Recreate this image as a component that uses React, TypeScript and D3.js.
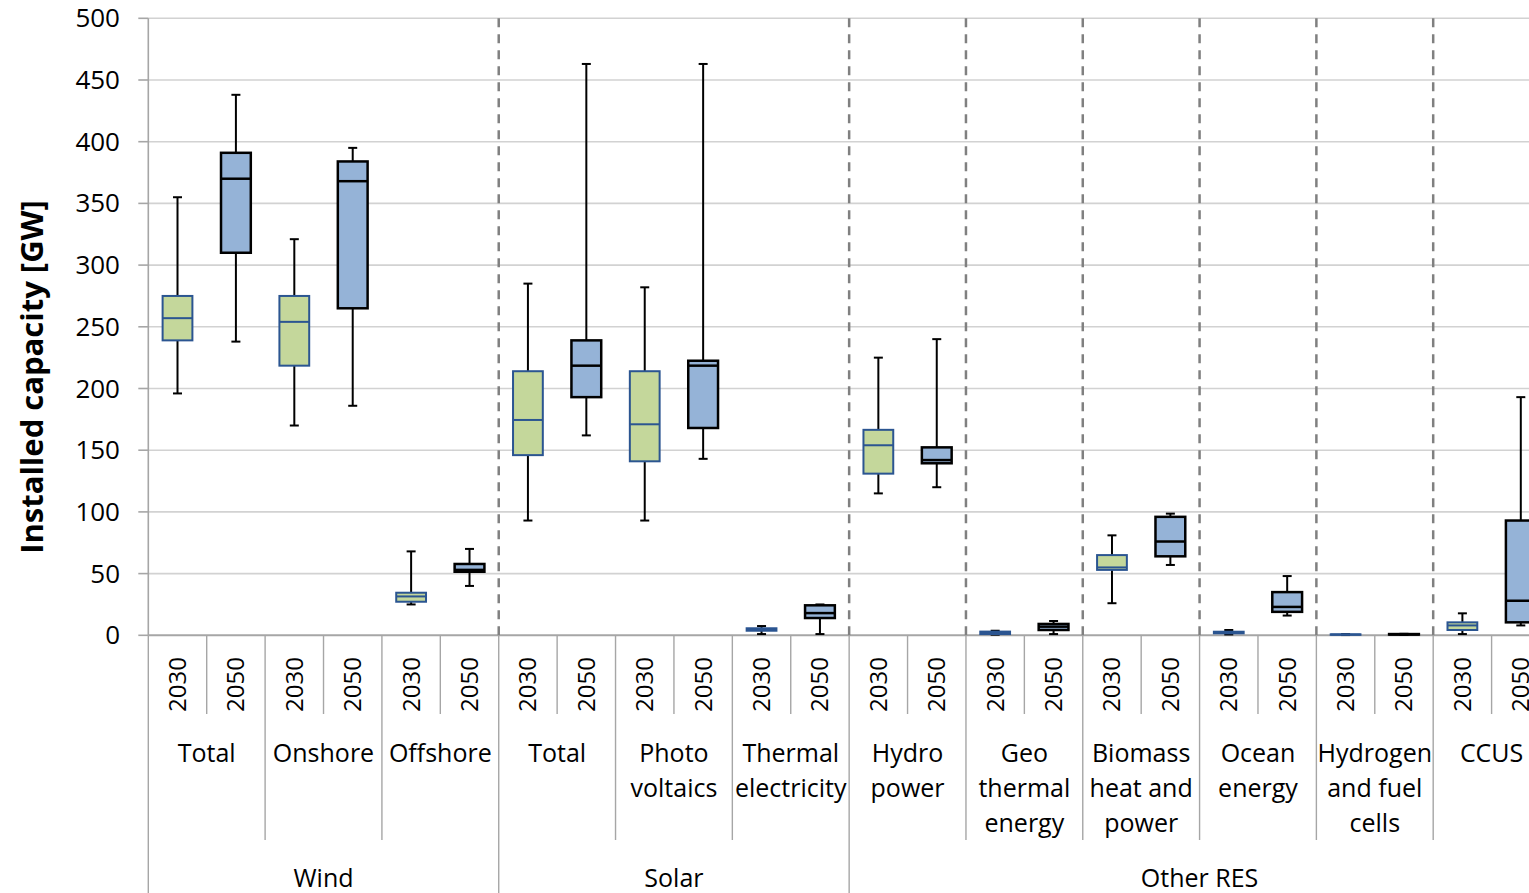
import React from "react";
import * as d3 from "d3";

// ---------- data ----------
const mainGroups = ["Wind", "Solar", "Other RES"];
const groupSpans = [3, 3, 6]; // number of sub-categories in each main group
const subCategories = [
  ["Total"],
  ["Onshore"],
  ["Offshore"],
  ["Total"],
  ["Photo", "voltaics"],
  ["Thermal", "electricity"],
  ["Hydro", "power"],
  ["Geo", "thermal", "energy"],
  ["Biomass", "heat and", "power"],
  ["Ocean", "energy"],
  ["Hydrogen", "and fuel", "cells"],
  ["CCUS"],
];
const years = ["2030", "2050"];
const yTicks = [0, 50, 100, 150, 200, 250, 300, 350, 400, 450, 500];

// [min, q1, median, q3, max] per sub-category
const stats2030 = [
  [196, 239, 257, 275, 355],
  [170, 218.5, 254, 275, 321],
  [25, 27.2, 31.5, 34.5, 68],
  [93, 146, 174.5, 214, 285],
  [93, 141, 171, 214, 282],
  [1, 3.7, 4.7, 5.7, 7.5],
  [115, 131, 154, 166.5, 225],
  [0.5, 1, 2, 3, 3.7],
  [26, 53, 55, 65, 81],
  [0.7, 1.6, 2.2, 2.9, 4.3],
  [0.2, 0.4, 0.6, 0.8, 1.0],
  [1, 4.3, 8, 10.5, 17.8],
];
const stats2050 = [
  [238, 310, 370, 391, 438],
  [186, 265, 368, 384, 395],
  [40, 51.5, 53, 57.8, 70],
  [162, 193, 218.5, 239, 463],
  [143, 168, 218.5, 222.5, 463],
  [1, 14, 18, 24.3, 25],
  [120, 139.4, 142, 152.3, 240],
  [1, 4.3, 7, 9.2, 11.6],
  [57, 64, 76, 96, 98.6],
  [16, 19, 23, 35, 48],
  [0.3, 0.6, 0.8, 1.0, 1.2],
  [8, 10.5, 28, 93, 193],
];

// ---------- styles ----------
const FONT = "'Open Sans', 'Noto Sans', sans-serif";
const fill2030 = "#C4D79B";
const stroke2030 = "#2B5591";
const fill2050 = "#95B3D7";
const stroke2050 = "#000000";

export default function App() {
  const W = 1529;
  const H = 893;
  const left = 148.3;
  const right = 1550;
  const nSlots = subCategories.length * years.length;
  const slotKeys = d3.range(nSlots).map(String);
  const x = d3.scaleBand<string>().domain(slotKeys).range([left, right]).padding(0);
  const step = x.step();
  const y = d3.scaleLinear().domain([0, 500]).range([635.3, 18.3]);
  const y0 = y(0);

  const boxW = step * 0.51;
  const capW = 9;

  const groupEdgeIdx: number[] = [0];
  groupSpans.reduce((acc, s) => {
    groupEdgeIdx.push(acc + s);
    return acc + s;
  }, 0);
  const groupEdgeSlots = groupEdgeIdx.map((i) => i * 2);

  const edgeX = (k: number) => left + k * step;

  const boxes: { k: number; s: number[]; year: number }[] = [];
  subCategories.forEach((_, i) => {
    boxes.push({ k: i * 2, s: stats2030[i], year: 0 });
    boxes.push({ k: i * 2 + 1, s: stats2050[i], year: 1 });
  });

  // dashed separators: main group boundaries and all sub-category boundaries in "Other RES"
  const dashedSlots: number[] = [];
  for (let i = 1; i < subCategories.length; i++) {
    const inWindOrSolar = i < groupEdgeIdx[2] && !groupEdgeIdx.includes(i);
    if (!inWindOrSolar) dashedSlots.push(i * 2);
  }

  return (
    <svg
      width={W}
      height={H}
      style={{ position: "absolute", left: 0, top: 0, background: "#fff" }}
      fontFamily={FONT}
    >
      <rect x={0} y={0} width={W} height={H} fill="#fff" />
      {/* gridlines */}
      {yTicks.map((t) => (
        <line
          key={"g" + t}
          x1={left}
          x2={W}
          y1={y(t)}
          y2={y(t)}
          stroke={t === 0 ? "#A6A6A6" : "#D2D2D2"}
          strokeWidth={t === 0 ? 2 : 1.6}
        />
      ))}
      {/* y axis */}
      <line x1={left} x2={left} y1={y(500)} y2={y0} stroke="#A6A6A6" strokeWidth={1.6} />
      {yTicks.map((t) => (
        <g key={"t" + t}>
          <line x1={left - 10} x2={left} y1={y(t)} y2={y(t)} stroke="#A6A6A6" strokeWidth={1.6} />
          <text x={120} y={y(t) + 9} textAnchor="end" fontSize={26} fill="#000">
            {t}
          </text>
        </g>
      ))}
      <text
        transform={`translate(43, ${(198 + 556) / 2}) rotate(-90)`}
        textAnchor="middle"
        fontSize={31}
        fontWeight="bold"
        fill="#000"
      >
        Installed capacity [GW]
      </text>

      {/* dashed separators */}
      {dashedSlots.map((k) => (
        <line
          key={"d" + k}
          x1={edgeX(k)}
          x2={edgeX(k)}
          y1={y(500)}
          y2={y0}
          stroke="#808080"
          strokeWidth={2.5}
          strokeDasharray="9,7"
        />
      ))}

      {/* boxes */}
      {boxes.map(({ k, s, year }) => {
        const cx = (x(String(k)) as number) + step / 2;
        const [mn, q1, md, q3, mx] = s;
        const fill = year === 0 ? fill2030 : fill2050;
        const stroke = year === 0 ? stroke2030 : stroke2050;
        const sw = year === 0 ? 2 : 2.5;
        return (
          <g key={"b" + k}>
            <line x1={cx} x2={cx} y1={y(mx)} y2={y(q3)} stroke="#000" strokeWidth={2} />
            <line x1={cx} x2={cx} y1={y(q1)} y2={y(mn)} stroke="#000" strokeWidth={2} />
            <line x1={cx - capW / 2} x2={cx + capW / 2} y1={y(mx)} y2={y(mx)} stroke="#000" strokeWidth={2} />
            <line x1={cx - capW / 2} x2={cx + capW / 2} y1={y(mn)} y2={y(mn)} stroke="#000" strokeWidth={2} />
            <rect
              x={cx - boxW / 2}
              y={y(q3)}
              width={boxW}
              height={Math.max(0.5, y(q1) - y(q3))}
              fill={fill}
              stroke={stroke}
              strokeWidth={sw}
            />
            <line
              x1={cx - boxW / 2}
              x2={cx + boxW / 2}
              y1={y(md)}
              y2={y(md)}
              stroke={stroke}
              strokeWidth={sw}
            />
          </g>
        );
      })}

      {/* category axis separators */}
      {d3.range(nSlots + 1).map((k) => {
        const isGroup = groupEdgeSlots.includes(k);
        const isSub = k % 2 === 0;
        const y2 = isGroup ? H : isSub ? 840 : 714;
        return (
          <line
            key={"s" + k}
            x1={edgeX(k)}
            x2={edgeX(k)}
            y1={y0}
            y2={y2}
            stroke="#A6A6A6"
            strokeWidth={1.4}
          />
        );
      })}

      {/* year labels */}
      {boxes.map(({ k, year }) => {
        const cx = (x(String(k)) as number) + step / 2;
        return (
          <text
            key={"y" + k}
            transform={`translate(${cx + 8.5}, 684.5) rotate(-90)`}
            textAnchor="middle"
            fontSize={24}
            fill="#000"
          >
            {years[year]}
          </text>
        );
      })}

      {/* sub-category labels */}
      {subCategories.map((lines, i) => {
        const cx = edgeX(i * 2) + step;
        return (
          <text key={"c" + i} textAnchor="middle" fontSize={25} fill="#000">
            {lines.map((ln, j) => (
              <tspan key={j} x={cx} y={762 + j * 35}>
                {ln}
              </tspan>
            ))}
          </text>
        );
      })}

      {/* main group labels */}
      {mainGroups.map((g, i) => {
        const cx = (edgeX(groupEdgeSlots[i]) + edgeX(groupEdgeSlots[i + 1])) / 2;
        return (
          <text key={"m" + g} x={cx} y={887} textAnchor="middle" fontSize={25} fill="#000">
            {g}
          </text>
        );
      })}
    </svg>
  );
}
